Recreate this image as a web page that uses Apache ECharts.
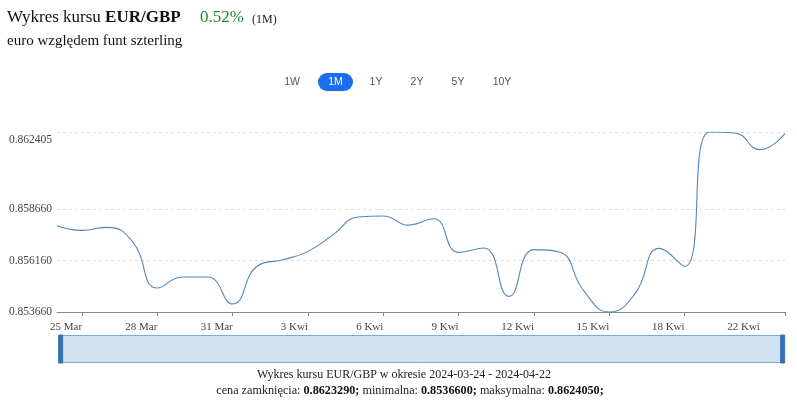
<!DOCTYPE html>
<html>
<head>
<meta charset="utf-8">
<script src="https://cdn.jsdelivr.net/npm/echarts@6/dist/echarts.min.js"></script>
<style>
html,body{margin:0;padding:0;background:#fff;}
#chart{width:797px;height:405px;}
</style>
</head>
<body>
<div id="chart"></div>
<script>
// ---- data ----
var dates = [
  '2024-03-24','2024-03-25','2024-03-26','2024-03-27','2024-03-28','2024-03-29','2024-03-30','2024-03-31',
  '2024-04-01','2024-04-02','2024-04-03','2024-04-04','2024-04-05','2024-04-06','2024-04-07','2024-04-08',
  '2024-04-09','2024-04-10','2024-04-11','2024-04-12','2024-04-13','2024-04-14','2024-04-15','2024-04-16',
  '2024-04-17','2024-04-18','2024-04-19','2024-04-20','2024-04-21','2024-04-22'
];
var rates = [
  0.857854, 0.857626, 0.857772, 0.857091, 0.854826, 0.855361, 0.855361, 0.854049,
  0.855910, 0.856202, 0.856605, 0.857417, 0.858277, 0.858326, 0.857880, 0.858194,
  0.856557, 0.856770, 0.854418, 0.856688, 0.856576, 0.854661, 0.853660, 0.854501,
  0.856751, 0.855876, 0.862405, 0.862360, 0.861548, 0.862329
];
var xLabels = [
  '', '25 Mar', '', '', '28 Mar', '', '', '31 Mar',
  '', '', '3 Kwi', '', '', '6 Kwi', '', '',
  '9 Kwi', '', '', '12 Kwi', '', '', '15 Kwi', '',
  '', '18 Kwi', '', '', '22 Kwi', ''
];
var xTickIdx = [1, 4, 7, 10, 13, 16, 19, 22, 25, 29];
var yTicks = [0.853660, 0.856160, 0.858660, 0.862405];
var yMin = 0.853660, yMax = 0.862405;
var ranges = ['1W', '1M', '1Y', '2Y', '5Y', '10Y'];
var activeRange = '1M';
var changeText = '0.52%';
var periodText = 'Wykres kursu EUR/GBP w okresie 2024-03-24 - 2024-04-22';
var closeVal = '0.8623290', minVal = '0.8536600', maxVal = '0.8624050';

var SERIF = '"Liberation Serif", "Times New Roman", serif';
var SANS = '"Liberation Sans", Arial, sans-serif';

var btnX = [292, 335.5, 376, 417, 458, 502];
var graphics = [];
// title
graphics.push({
  type: 'text', left: 7, top: 9,
  style: {
    text: '{n|Wykres kursu }{b|EUR/GBP}',
    rich: {
      n: {fontFamily: SERIF, fontSize: 17, fill: '#111'},
      b: {fontFamily: SERIF, fontSize: 17, fontWeight: 'bold', fill: '#111'}
    }
  }
});
graphics.push({
  type: 'text', left: 200, top: 9,
  style: {text: changeText, fontFamily: SERIF, fontSize: 17, fill: '#238636'}
});
graphics.push({
  type: 'text', left: 252, top: 14,
  style: {text: '(1M)', fontFamily: SERIF, fontSize: 12, fill: '#222'}
});
graphics.push({
  type: 'text', left: 7, top: 34,
  style: {text: 'euro względem funt szterling', fontFamily: SERIF, fontSize: 15, fill: '#111'}
});
// range buttons
ranges.forEach(function (r, i) {
  var active = r === activeRange;
  if (active) {
    graphics.push({
      type: 'rect',
      shape: {x: btnX[i] - 17.5, y: 73, width: 35, height: 18, r: 9},
      style: {fill: '#1a6cf0'}
    });
  }
  graphics.push({
    type: 'text', x: btnX[i], y: 82,
    style: {
      text: r, fontFamily: SANS, fontSize: 10.5,
      fill: active ? '#fff' : '#555', align: 'center', verticalAlign: 'middle'
    }
  });
});
// footer
graphics.push({
  type: 'text', x: 404, y: 375,
  style: {text: periodText, fontFamily: SERIF, fontSize: 12, fill: '#222', align: 'center', verticalAlign: 'middle'}
});
graphics.push({
  type: 'text', x: 410, y: 391,
  style: {
    text: '{n|cena zamknięcia: }{b|' + closeVal + ';}{n| minimalna: }{b|' + minVal + ';}{n| maksymalna: }{b|' + maxVal + ';}',
    align: 'center', verticalAlign: 'middle',
    rich: {
      n: {fontFamily: SERIF, fontSize: 12.2, fill: '#222'},
      b: {fontFamily: SERIF, fontSize: 12.2, fontWeight: 'bold', fill: '#111'}
    }
  }
});

var chart = echarts.init(document.getElementById('chart'));
chart.setOption({
  animation: false,
  grid: {left: 57, right: 12, top: 132, bottom: 93, containLabel: false},
  xAxis: {
    type: 'category',
    data: dates,
    boundaryGap: false,
    axisLine: {show: true, lineStyle: {color: '#888', width: 1}},
    axisTick: {
      show: true, length: 4, lineStyle: {color: '#888'},
      interval: function (idx) { return xTickIdx.indexOf(idx) >= 0; }
    },
    axisLabel: {
      interval: function (idx) { return xLabels[idx] !== ''; },
      formatter: function (v, idx) { return xLabels[idx]; },
      align: 'right', margin: 10,
      fontFamily: SERIF, fontSize: 11, color: '#444',
      hideOverlap: false
    },
    splitLine: {show: false}
  },
  yAxis: {
    type: 'value',
    min: yMin, max: yMax,
    axisLine: {show: false},
    axisTick: {show: false, customValues: yTicks},
    axisLabel: {
      customValues: yTicks,
      formatter: function (v) {
        var s = v.toFixed(6);
        return Math.abs(v - yMax) < 1e-9 ? '{top|' + s + '}' : s;
      },
      rich: {top: {padding: [15, 0, 0, 0], fontFamily: SERIF, fontSize: 11.5, color: '#444'}},
      fontFamily: SERIF, fontSize: 11.5, color: '#444', margin: 5
    },
    splitLine: {show: true, lineStyle: {color: '#ddd', type: [3, 3], width: 1}}
  },
  dataZoom: [{
    type: 'slider',
    xAxisIndex: 0,
    left: 59, right: 14, top: 335, height: 28,
    start: 0, end: 100,
    showDataShadow: false, showDetail: false,
    brushSelect: false, moveHandleSize: 0,
    backgroundColor: 'rgba(0,0,0,0)',
    borderColor: '#7fa9d6',
    fillerColor: 'rgba(190,214,235,0.7)',
    handleIcon: 'path://M0,0 L4,0 L4,28 L0,28 Z',
    handleSize: '100%',
    handleStyle: {color: '#3473b3', borderColor: '#3473b3'}
  }],
  series: [{
    type: 'line',
    data: rates,
    smooth: true,
    showSymbol: false,
    symbol: 'none',
    lineStyle: {color: '#4f86bf', width: 1.1}
  }],
  graphic: graphics
});
</script>
</body>
</html>
